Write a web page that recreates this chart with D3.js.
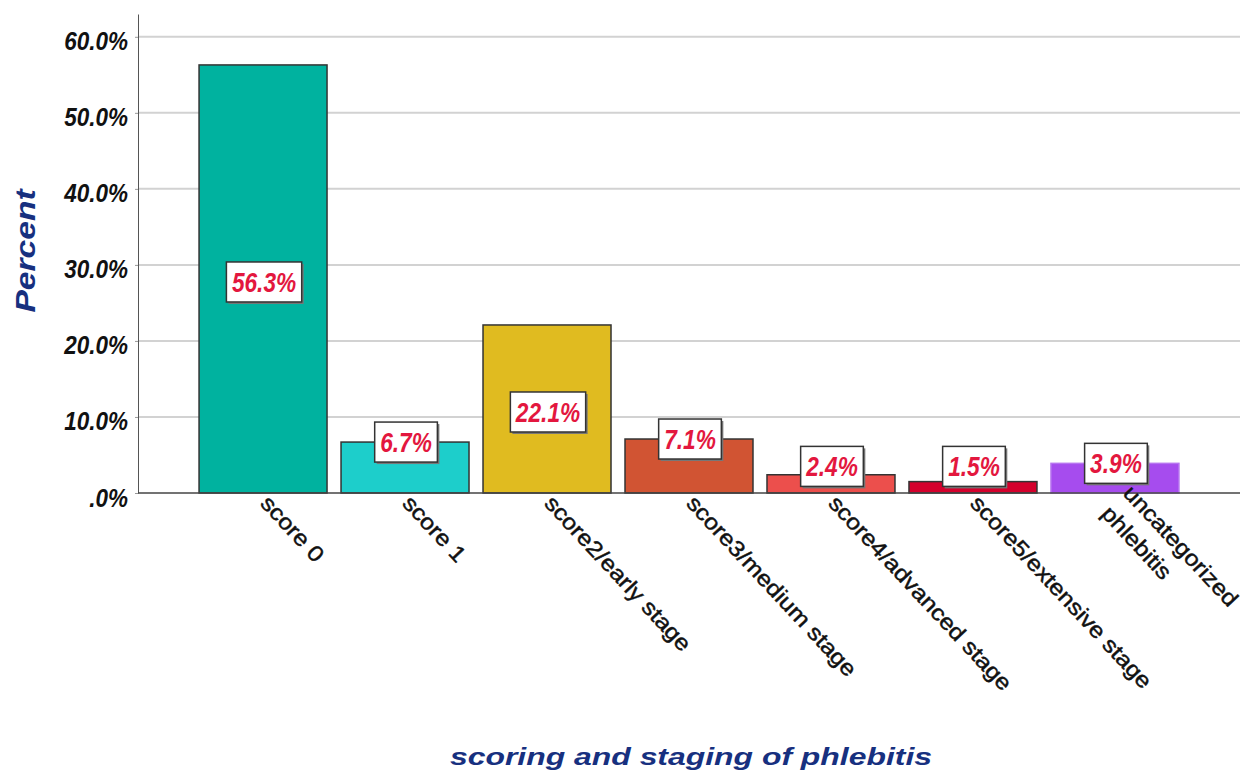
<!DOCTYPE html>
<html>
<head>
<meta charset="utf-8">
<script src="https://cdn.jsdelivr.net/npm/d3@7"></script>
<style>
  body { margin: 0; background: #fff; }
  svg { display: block; }
</style>
</head>
<body>
<div class="chart_box"></div>
<script>
// chart data
const categories = [
  "score 0",
  "score 1",
  "score2/early stage",
  "score3/medium stage",
  "score4/advanced stage",
  "score5/extensive stage",
  "uncategorized\nphlebitis",
];
const percents = [56.3, 6.7, 22.1, 7.1, 2.4, 1.5, 3.9];
const barColors = ["#00b29f", "#1dcecb", "#e0bb20", "#d15433", "#ec4f4c", "#d4002c", "#a64cee"];
const yTicks = [0, 10, 20, 30, 40, 50, 60];

const width = 1243;
const height = 773;

const svg = d3
  .select(".chart_box")
  .append("svg")
  .attr("width", width)
  .attr("height", height);

// scales
const xScale = d3
  .scaleBand()
  .domain(categories)
  .range([138, 1240])
  .paddingInner(0.0986)
  .paddingOuter(0.43);

const yScale = d3.scaleLinear().domain([0, 63]).range([493, 14]);

const tickFmt = (d) => (d === 0 ? ".0%" : d3.format(".1f")(d) + "%");

// gridlines
svg
  .append("g")
  .selectAll("line")
  .data(yTicks.filter((d) => d > 0))
  .enter()
  .append("line")
  .attr("x1", 138)
  .attr("x2", 1240)
  .attr("y1", (d) => yScale(d))
  .attr("y2", (d) => yScale(d))
  .attr("stroke", "#d2d2d2")
  .attr("stroke-width", 2);

// y axis
const yAxis = svg
  .append("g")
  .attr("transform", "translate(138, 0)")
  .call(d3.axisLeft(yScale).tickValues(yTicks).tickFormat(tickFmt).tickSize(3).tickSizeOuter(0));
yAxis.select(".domain").attr("stroke", "#555");
yAxis.selectAll(".tick line").attr("stroke", "#999");
yAxis
  .selectAll("text")
  .attr("x", -10 / 0.9)
  .attr("dy", "0.52em")
  .attr("transform", "scale(0.9,1)")
  .style("font-family", "'Liberation Sans', Arial, sans-serif")
  .style("font-size", "25px")
  .style("font-weight", "bold")
  .style("font-style", "italic")
  .attr("fill", "#111");

// bars
svg
  .append("g")
  .selectAll("rect")
  .data(categories)
  .enter()
  .append("rect")
  .attr("x", (d) => xScale(d))
  .attr("y", (d, i) => yScale(percents[i]))
  .attr("width", xScale.bandwidth())
  .attr("height", (d, i) => yScale(0) - yScale(percents[i]))
  .attr("fill", (d, i) => barColors[i])
  .attr("stroke", (d, i) => (i === 6 ? "#b774f0" : "#333"))
  .attr("stroke-width", 1.5);

// x axis line
svg
  .append("line")
  .attr("x1", 138)
  .attr("x2", 1240)
  .attr("y1", yScale(0))
  .attr("y2", yScale(0))
  .attr("stroke", "#444")
  .attr("stroke-width", 1.5);

// x labels, rotated
const xLab = svg
  .append("g")
  .selectAll("text")
  .data(categories)
  .enter()
  .append("text")
  .attr("transform", (d) => `translate(${xScale(d) + xScale.bandwidth() / 2 + 5}, 496) rotate(47) scale(1.13,1)`)
  .style("font-family", "'Liberation Sans', Arial, sans-serif")
  .style("font-size", "22px")
  .attr("fill", "#111")
  .attr("stroke", "#111")
  .attr("stroke-width", 0.45);

xLab.each(function (d) {
  const lines = d.split("\n");
  const lh = 30;
  const off = -((lines.length - 1) * lh) / 2;
  d3.select(this)
    .selectAll("tspan")
    .data(lines)
    .enter()
    .append("tspan")
    .attr("x", 0)
    .attr("y", (l, j) => off + j * lh)
    .attr("dy", "0.55em")
    .text((l) => l);
});

// value labels in boxes
const labelG = svg
  .append("g")
  .selectAll("g")
  .data(categories)
  .enter()
  .append("g")
  .attr("transform", (d, i) => {
    const v = percents[i];
    const c = v >= 10 ? v / 2 : Math.max(v, 3.5);
    const nudge = v >= 10 ? 3 : 0;
    return `translate(${xScale(d) + xScale.bandwidth() / 2 + 1}, ${yScale(c) + nudge})`;
  });

labelG.each(function (d, i) {
  const g = d3.select(this);
  const shadow = g.append("rect");
  const box = g.append("rect");
  const t = g
    .append("text")
    .attr("text-anchor", "middle")
    .attr("transform", "scale(0.81,1)")
    .attr("dy", "0.36em")
    .style("font-family", "'Liberation Sans', Arial, sans-serif")
    .style("font-size", "28px")
    .style("font-weight", "bold")
    .style("font-style", "italic")
    .attr("fill", "#e3173e")
    .text(percents[i].toFixed(1) + "%");
  const w = t.node().getComputedTextLength() * 0.81 + 11;
  const h = 40;
  shadow
    .attr("x", -w / 2 + 2)
    .attr("y", -h / 2 + 2)
    .attr("width", w)
    .attr("height", h)
    .attr("fill", "#777");
  box
    .attr("x", -w / 2)
    .attr("y", -h / 2)
    .attr("width", w)
    .attr("height", h)
    .attr("fill", "#fff")
    .attr("stroke", "#333")
    .attr("stroke-width", 1.5);
});

// axis titles
svg
  .append("text")
  .attr("transform", "translate(35, 251) rotate(-90) scale(1.2,1)")
  .attr("text-anchor", "middle")
  .style("font-family", "'Liberation Sans', Arial, sans-serif")
  .style("font-size", "28px")
  .style("font-weight", "bold")
  .style("font-style", "italic")
  .attr("fill", "#17307f")
  .text("Percent");

svg
  .append("text")
  .attr("transform", "translate(691, 765) scale(1.33,1)")
  .attr("text-anchor", "middle")
  .style("font-family", "'Liberation Sans', Arial, sans-serif")
  .style("font-size", "24px")
  .style("font-weight", "bold")
  .style("font-style", "italic")
  .attr("fill", "#17307f")
  .text("scoring and staging of phlebitis");
</script>
</body>
</html>
